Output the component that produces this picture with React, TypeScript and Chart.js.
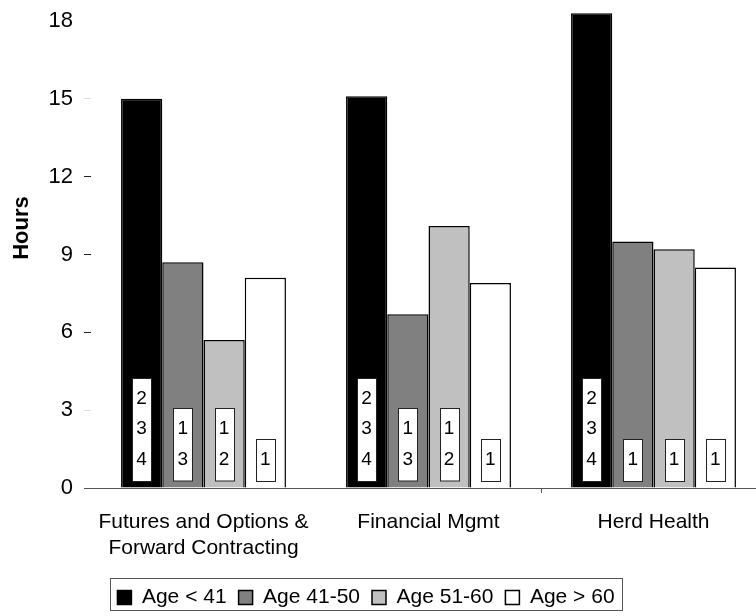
import { useEffect, useRef } from 'react';
import { Chart, registerables } from 'chart.js';

Chart.register(...registerables);

// Training topics on the category axis
const categories: (string | string[])[] = [
  ['Futures and Options &', 'Forward Contracting'],
  'Financial Mgmt',
  'Herd Health',
];

// Age groups (one bar series each)
const seriesNames = ['Age < 41', 'Age 41-50', 'Age 51-60', 'Age > 60'];
const seriesFills = ['#000000', '#808080', '#c0c0c0', '#ffffff'];

// Hours of training wanted, per topic
const ageUnder41 = [15.0, 15.1, 18.3];
const age41to50 = [8.7, 6.7, 9.5];
const age51to60 = [5.7, 10.1, 9.2];
const ageOver60 = [8.1, 7.9, 8.5];

// Groups each bar differs from, printed in a box at the foot of the bar
const marksUnder41 = [['2', '3', '4'], ['2', '3', '4'], ['2', '3', '4']];
const marks41to50 = [['1', '3'], ['1', '3'], ['1']];
const marks51to60 = [['1', '2'], ['1', '2'], ['1']];
const marksOver60 = [['1'], ['1'], ['1']];

const seriesValues = [ageUnder41, age41to50, age51to60, ageOver60];
const seriesMarks = [marksUnder41, marks41to50, marks51to60, marksOver60];

// Value axis
const yMin = 0;
const yMax = 18.5;
const yStep = 3;
const yTitle = 'Hours';

const FONT = '"Liberation Sans", Arial, Helvetica, sans-serif';
const CANVAS_W = 766;
const CANVAS_H = 616;

// Short tick marks beside the value labels
function yTickColor(value: number): string {
  if (value === 0) return '#555555';
  if (value === 6 || value === 9 || value === 12) return '#222222';
  if (value === 3 || value === 15) return '#dddddd';
  return 'rgba(0,0,0,0)';
}

const markBoxes = {
  id: 'markBoxes',
  afterDatasetsDraw(chart: any) {
    const ctx = chart.ctx;
    ctx.save();
    ctx.font = `19px ${FONT}`;
    ctx.textAlign = 'center';
    ctx.textBaseline = 'middle';
    chart.data.datasets.forEach((_ds: any, di: number) => {
      const meta = chart.getDatasetMeta(di);
      meta.data.forEach((bar: any, i: number) => {
        const lines = seriesMarks[di][i];
        if (!lines || !lines.length) return;
        const { x, base } = bar.getProps(['x', 'base'], true);
        const lineGap = 30.5;
        const w = 19;
        const h = 42 + lineGap * (lines.length - 1);
        const bottom = base - 7;
        const top = bottom - h;
        ctx.fillStyle = '#ffffff';
        ctx.fillRect(Math.round(x - w / 2) + 0.5, Math.round(top) + 0.5, w, h);
        ctx.strokeStyle = '#222222';
        ctx.lineWidth = 1;
        ctx.strokeRect(Math.round(x - w / 2) + 0.5, Math.round(top) + 0.5, w, h);
        ctx.fillStyle = '#000000';
        lines.forEach((t: string, k: number) => {
          ctx.fillText(t, x, bottom - 21 - lineGap * (lines.length - 1 - k));
        });
      });
    });
    ctx.restore();
  },
};

const LEGEND_CENTER_X = 366;

const frame = {
  id: 'frame',
  afterLayout(chart: any) {
    const lg = chart.legend;
    if (!lg) return;
    const dx = LEGEND_CENTER_X - (lg.left + lg.right) / 2;
    lg.left += dx;
    lg.right += dx;
    lg.top += 2;
    lg.bottom += 2;
  },
  afterDraw(chart: any) {
    const ctx = chart.ctx;
    // value-axis title
    ctx.save();
    ctx.translate(21.5, 228);
    ctx.rotate(-Math.PI / 2);
    ctx.font = `bold 22px ${FONT}`;
    ctx.fillStyle = '#000000';
    ctx.textAlign = 'center';
    ctx.textBaseline = 'middle';
    ctx.fillText(yTitle, 0, 0);
    ctx.restore();

    // border round the legend
    const boxes = chart.legend && chart.legend.legendHitBoxes;
    if (boxes && boxes.length) {
      const first = boxes[0];
      const last = boxes[boxes.length - 1];
      const left = Math.round(first.left - 7) + 0.5;
      const right = Math.round(last.left + last.width + 7) + 0.5;
      const top = Math.round(first.top - 9) + 0.5;
      const bottom = Math.round(first.top + first.height + 1.5) + 0.5;
      ctx.save();
      ctx.strokeStyle = '#555555';
      ctx.lineWidth = 1;
      ctx.strokeRect(left, top, right - left, bottom - top);
      ctx.restore();
    }
  },
};

export default function App() {
  const canvasRef = useRef<HTMLCanvasElement | null>(null);

  useEffect(() => {
    document.body.style.margin = '0';
    document.body.style.overflow = 'hidden';
    const canvas = canvasRef.current;
    if (!canvas) return;

    const chart = new Chart(canvas, {
      type: 'bar',
      data: {
        labels: categories,
        datasets: seriesNames.map((name, i) => ({
          label: name,
          data: seriesValues[i],
          backgroundColor: seriesFills[i],
          borderColor: '#000000',
          borderWidth: 1.5,
          categoryPercentage: 0.733,
          barPercentage: 1,
        })),
      },
      options: {
        responsive: false,
        animation: false,
        devicePixelRatio: 1,
        layout: { padding: { top: 8, left: 0, right: 0, bottom: 0 } },
        plugins: {
          tooltip: { enabled: false },
          title: { display: false },
          legend: {
            display: true,
            position: 'bottom',
            labels: {
              boxWidth: 14,
              boxHeight: 14,
              padding: 12,
              color: '#000000',
              font: { family: FONT, size: 21 },
            },
          },
        },
        scales: {
          x: {
            type: 'category',
            offset: true,
            grid: {
              offset: true,
              drawOnChartArea: false,
              drawTicks: true,
              tickLength: 5,
              tickWidth: 1,
              tickColor: (ctx: any) => (ctx.index === 2 ? '#555555' : 'rgba(0,0,0,0)'),
            },
            border: { display: true, color: '#555555', width: 1 },
            ticks: {
              color: '#000000',
              padding: 17,
              maxRotation: 0,
              autoSkip: false,
              font: { family: FONT, size: 21, lineHeight: 1.2 },
            },
            afterFit: (s: any) => {
              s.height = 85;
              s.paddingLeft = 0;
              s.paddingRight = 0;
            },
          },
          y: {
            type: 'linear',
            min: yMin,
            max: yMax,
            grid: {
              drawOnChartArea: false,
              drawTicks: true,
              tickLength: 7,
              tickWidth: 1,
              tickColor: (ctx: any) => yTickColor(ctx.tick ? ctx.tick.value : -1),
            },
            border: { display: false },
            ticks: {
              stepSize: yStep,
              includeBounds: false,
              padding: 11,
              color: '#000000',
              font: { family: FONT, size: 22 },
            },
            afterFit: (s: any) => {
              s.width = 91;
              s.paddingTop = 0;
              s.paddingBottom = 0;
            },
          },
        },
      } as any,
      plugins: [markBoxes, frame],
    });

    return () => chart.destroy();
  }, []);

  return (
    <div style={{ width: 756, height: 616, overflow: 'hidden', background: '#ffffff' }}>
      <canvas ref={canvasRef} width={CANVAS_W} height={CANVAS_H} style={{ display: 'block' }} />
    </div>
  );
}
